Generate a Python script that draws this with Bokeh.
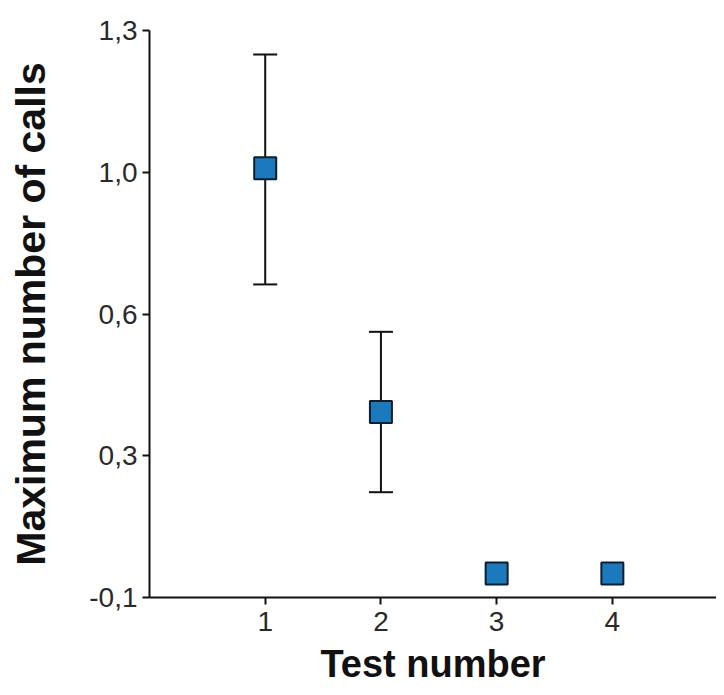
from bokeh.plotting import figure
from bokeh.models import ColumnDataSource, Whisker, TeeHead, FixedTicker, Range1d
from bokeh.embed import file_html
from bokeh.resources import INLINE

tests = [1, 2, 3, 4]
max_calls = [0.96, 0.358, -0.041, -0.041]
err_upper = [1.241, 0.556]
err_lower = [0.673, 0.160]
err_tests = [1, 2]

y_ticks = [-0.1, 0.25, 0.6, 0.95, 1.3]
y_tick_labels = ["-0,1", "0,3", "0,6", "1,0", "1,3"]
x_ticks = [1, 2, 3, 4]

p = figure(width=716, height=687, output_backend="svg", toolbar_location=None,
           x_range=Range1d(0, 4.9), y_range=Range1d(-0.1, 1.3),
           min_border_left=149, min_border_top=30, min_border_right=0, min_border_bottom=85)
p.outline_line_color = None
p.xgrid.visible = False
p.ygrid.visible = False
p.background_fill_color = "white"

err_src = ColumnDataSource(dict(x=err_tests, upper=err_upper, lower=err_lower))
w = Whisker(base="x", upper="upper", lower="lower", source=err_src,
            line_color="#111111", line_width=2,
            upper_head=TeeHead(size=24, line_color="#111111", line_width=2),
            lower_head=TeeHead(size=24, line_color="#111111", line_width=2))
p.add_layout(w)

src = ColumnDataSource(dict(x=tests, y=max_calls))
p.scatter("x", "y", source=src, marker="square", size=22,
          fill_color="#1b7abd", line_color="#0e1e2c", line_width=2)

for ax in (p.xaxis[0], p.yaxis[0]):
    ax.axis_line_color = "#111111"
    ax.axis_line_width = 2
    ax.major_tick_line_color = "#111111"
    ax.major_tick_line_width = 2
    ax.major_tick_out = 7
    ax.major_tick_in = 0
    ax.minor_tick_line_color = None
    ax.major_label_text_font = "Liberation Sans"
    ax.major_label_text_font_size = "28px"
    ax.major_label_text_color = "#2a2a2a"
    ax.axis_label_text_font = "Liberation Sans"
    ax.axis_label_text_font_style = "bold"
    ax.axis_label_text_color = "#111111"

p.xaxis.ticker = FixedTicker(ticks=x_ticks)
p.xaxis.axis_label = "Test number"
p.xaxis.axis_label_text_font_size = "38px"
p.xaxis.major_label_standoff = 7
p.xaxis.axis_label_standoff = 9

p.yaxis.ticker = FixedTicker(ticks=y_ticks)
p.yaxis.major_label_overrides = {t: l for t, l in zip(y_ticks, y_tick_labels)}
p.yaxis.axis_label = "Maximum number of calls"
p.yaxis.axis_label_text_font_size = "41px"
p.yaxis.major_label_standoff = 5
p.yaxis.axis_label_standoff = 32

open("out.html", "w").write(file_html(p, INLINE))
